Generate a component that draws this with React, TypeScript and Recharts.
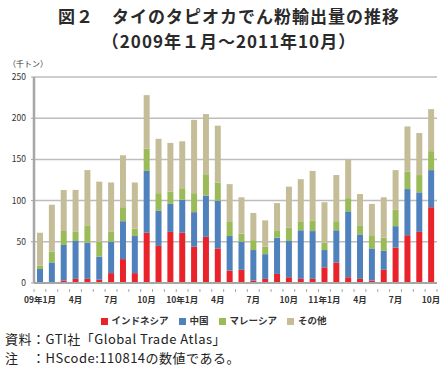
import { Bar, BarChart, CartesianGrid, Legend, XAxis, YAxis } from "recharts"

const months = [
  "09年1月", "2月", "3月", "4月", "5月", "6月", "7月", "8月", "9月", "10月", "11月", "12月",
  "10年1月", "2月", "3月", "4月", "5月", "6月", "7月", "8月", "9月", "10月", "11月", "12月",
  "11年1月", "2月", "3月", "4月", "5月", "6月", "7月", "8月", "9月", "10月",
]

const indonesia = [
  0, 0, 3, 5, 5, 4, 12, 29, 12, 61, 45, 62,
  61, 44, 56, 42, 15, 16, 3, 5, 11, 7, 5, 5,
  19, 25, 7, 5, 3, 16, 43, 58, 62, 92,
]
const china = [
  17, 25, 43, 46, 44, 28, 38, 46, 45, 75, 43, 34,
  40, 42, 50, 58, 42, 34, 37, 30, 44, 44, 59, 58,
  21, 39, 80, 54, 39, 23, 26, 56, 48, 45,
]
const malaysia = [
  4, 13, 17, 11, 21, 18, 12, 17, 9, 27, 21, 15,
  14, 23, 26, 22, 17, 10, 12, 9, 9, 16, 10, 13,
  9, 11, 16, 11, 16, 16, 20, 21, 21, 23,
]
const others = [
  40, 57, 50, 51, 67, 73, 60, 63, 56, 65, 66, 59,
  57, 89, 73, 69, 46, 44, 33, 32, 33, 50, 52, 60,
  49, 56, 47, 38, 38, 49, 48, 55, 51, 51,
]

const yTicks = [0, 50, 100, 150, 200, 250]
const seriesOrder = ["indonesia", "china", "malaysia", "others"]

const data = months.map((m, i) => ({
  month: m,
  indonesia: indonesia[i],
  china: china[i],
  malaysia: malaysia[i],
  others: others[i],
}))

const font = '"Noto Sans CJK JP", "Noto Sans", sans-serif'

const W = 443
const LEFT = 34
const RIGHT = 6
const band = (W - LEFT - RIGHT) / months.length

function MonthTick(props: any) {
  const { x, y, index, payload } = props
  const left = x - band / 2
  return (
    <g>
      <line x1={left} x2={left} y1={y - 6} y2={y - 3} stroke="#a6a6a6" />
      {index === months.length - 1 && (
        <line x1={x + band / 2} x2={x + band / 2} y1={y - 6} y2={y - 3} stroke="#a6a6a6" />
      )}
      {index % 3 === 0 && (
        <text x={x} y={y} dy={8} textAnchor="middle" fontSize={8.5} fontWeight={700} fill="#333" fontFamily={font}>
          {payload.value}
        </text>
      )}
    </g>
  )
}

const titleStyle = {
  position: "absolute" as const,
  left: 0,
  width: 458,
  textAlign: "center" as const,
  fontSize: 17,
  letterSpacing: 1,
  fontWeight: 700,
  lineHeight: "22px",
  color: "#2a2a2a",
}

const noteStyle = {
  position: "absolute" as const,
  left: 5,
  fontSize: 13,
  letterSpacing: 0.5,
  lineHeight: "18px",
  color: "#222",
}

export default function App() {
  return (
    <div
      style={{
        position: "absolute",
        left: 0,
        top: 0,
        width: W,
        height: 375,
        background: "#fff",
        fontFamily: font,
        color: "#222",
      }}
    >
      <div style={{ ...titleStyle, top: 5 }}>図２　タイのタピオカでん粉輸出量の推移</div>
      <div style={{ ...titleStyle, top: 30 }}>（2009年１月～2011年10月）</div>
      <div style={{ position: "absolute", top: 58, left: 8, fontSize: 8, color: "#333" }}>
        （千トン）
      </div>
      <div style={{ position: "absolute", top: 0, left: 0 }}>
        <BarChart
          width={W}
          height={330}
          data={data}
          margin={{ top: 77, right: RIGHT, left: 0, bottom: 0 }}
          barSize={6}
        >
          <CartesianGrid vertical={false} stroke="#bdbdbd" strokeWidth={1.5} />
          <XAxis
            dataKey="month"
            interval={0}
            height={27}
            tickLine={false}
            axisLine={{ stroke: "#a6a6a6", strokeWidth: 2 }}
            tick={<MonthTick />}
            tickMargin={6}
          />
          <YAxis
            domain={[0, 250]}
            ticks={yTicks}
            width={LEFT}
            tickSize={3}
            tickMargin={5}
            tickLine={{ stroke: "#a6a6a6" }}
            axisLine={{ stroke: "#a6a6a6", strokeWidth: 2.5 }}
            tick={{ fontSize: 8.5, fill: "#333", fontFamily: font }}
          />
          <Legend
            verticalAlign="bottom"
            iconType="square"
            iconSize={7}
            itemSorter={(item: any) => seriesOrder.indexOf(item.dataKey)}
            wrapperStyle={{ fontSize: 9.5, fontWeight: 700, fontFamily: font, height: 20, lineHeight: "20px" }}
            formatter={(value: string) => <span style={{ color: "#333" }}>{value}</span>}
          />
          <Bar dataKey="indonesia" name="インドネシア" stackId="a" fill="#e8232a" isAnimationActive={false} />
          <Bar dataKey="china" name="中国" stackId="a" fill="#4f81bd" isAnimationActive={false} />
          <Bar dataKey="malaysia" name="マレーシア" stackId="a" fill="#9bbb59" isAnimationActive={false} />
          <Bar dataKey="others" name="その他" stackId="a" fill="#c4bd97" isAnimationActive={false} />
        </BarChart>
      </div>
      <div style={{ ...noteStyle, top: 330 }}>資料：GTI社「Global Trade Atlas」</div>
      <div style={{ ...noteStyle, top: 349 }}>注　：HScode:110814の数値である。</div>
    </div>
  )
}
